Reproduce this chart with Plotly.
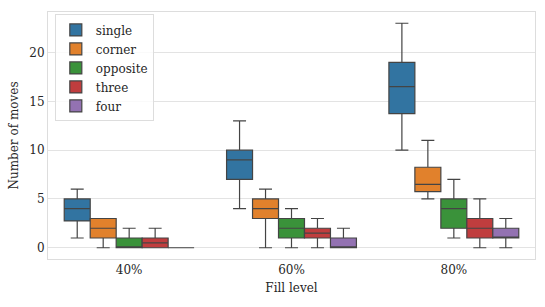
import plotly.graph_objects as go

categories = ["40%", "60%", "80%"]
series = ["single", "corner", "opposite", "three", "four"]
colors = ["#3274a1", "#e1812c", "#3a923a", "#c03d3e", "#9372b2"]

# per series: values for 40%, 60%, 80%
lower = {"single": [1, 4, 10], "corner": [0, 0, 5], "opposite": [0, 0, 1], "three": [0, 0, 0], "four": [0, 0, 0]}
q1 = {"single": [2.75, 7, 13.75], "corner": [1, 3, 5.75], "opposite": [0, 1, 2], "three": [0, 1, 1], "four": [0, 0, 1]}
median = {"single": [4, 9, 16.5], "corner": [2, 4, 6.5], "opposite": [0, 2, 4], "three": [0.5, 1.5, 2], "four": [0, 0, 1]}
q3 = {"single": [5, 10, 19], "corner": [3, 5, 8.25], "opposite": [1, 3, 5], "three": [1, 2, 3], "four": [0, 1, 2]}
upper = {"single": [6, 13, 23], "corner": [3, 6, 11], "opposite": [2, 4, 7], "three": [2, 3, 5], "four": [0, 2, 3]}

FONT = "DejaVu Serif"
TXT = "#262626"
fig = go.Figure()
for s, c in zip(series, colors):
    fig.add_trace(go.Box(
        name=s, x=categories,
        q1=q1[s], median=median[s], q3=q3[s],
        lowerfence=lower[s], upperfence=upper[s],
        fillcolor=c, line=dict(color="#444444", width=1.2),
        whiskerwidth=0.5, boxpoints=False, hoverinfo="skip",
    ))

fig.update_layout(
    width=545, height=307,
    margin=dict(l=48, r=10, t=12, b=48),
    paper_bgcolor="white", plot_bgcolor="white",
    boxmode="group", boxgap=0.2, boxgroupgap=0,
    font=dict(family=FONT, size=12, color=TXT),
    showlegend=True,
    legend=dict(x=0.014, y=0.99, xanchor="left", yanchor="top",
                bgcolor="rgba(255,255,255,0.8)", bordercolor="#dddddd", borderwidth=1,
                font=dict(family=FONT, size=12, color=TXT), itemwidth=30),
    xaxis=dict(title=dict(text="Fill level", standoff=7, font=dict(family=FONT, size=12, color=TXT)),
               tickfont=dict(family=FONT, size=12, color=TXT),
               showgrid=False, showline=True, linecolor="#dddddd", mirror=True,
               ticks="", zeroline=False, range=[-0.5, 2.5]),
    yaxis=dict(title=dict(text="Number of moves", standoff=8, font=dict(family=FONT, size=12, color=TXT)),
               tickfont=dict(family=FONT, size=12, color=TXT),
               range=[-1.15, 24.15], tickvals=[0, 5, 10, 15, 20],
               showgrid=True, gridcolor="#e3e3e3", gridwidth=1,
               showline=True, linecolor="#dddddd", mirror=True,
               ticks="", zeroline=False),
)

fig.write_html("out.html", config={"displayModeBar": False},
               post_script="document.body.style.margin='0';")
